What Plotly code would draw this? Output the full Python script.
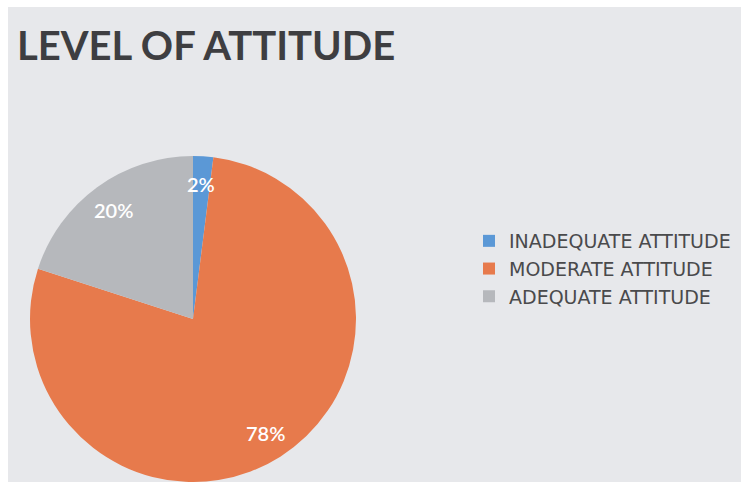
import math
import plotly.graph_objects as go

# Attitude levels and their shares (%)
levels = ["INADEQUATE ATTITUDE", "MODERATE ATTITUDE", "ADEQUATE ATTITUDE"]
shares = [2, 78, 20]
colors = ["#5b98d6", "#e77a4c", "#b6b8bc"]

W, H = 741, 482
# pie placement in pixels (pie sits on the bottom edge of the panel)
CX, CY = 193, 319
R = H - CY

fig = go.Figure()
fig.add_trace(go.Pie(
    labels=levels,
    values=shares,
    sort=False,
    direction="clockwise",
    rotation=0,
    textinfo="none",
    hoverinfo="label+percent",
    marker=dict(colors=colors, line=dict(width=0)),
    domain=dict(x=[(CX - R) / W, (CX + R) / W],
                y=[0, 2 * R / H]),
))

# percentage labels placed along each slice's mid-angle
total = sum(shares)
cum = 0
annotations = []
for v in shares:
    mid = (cum + v / 2) / total * 2 * math.pi
    cum += v
    rr = 0.83 * R
    px = CX + rr * math.sin(mid)
    py = (H - CY) + rr * math.cos(mid)
    annotations.append(dict(
        x=px / W, y=py / H, xref="paper", yref="paper",
        text=f"{round(v / total * 100)}%", showarrow=False,
        font=dict(family="Lato", size=20, color="#ffffff", weight=600),
        xanchor="center", yanchor="middle"))

annotations.append(dict(
    x=15 / W, y=(H - 45) / H, xref="paper", yref="paper",
    text="<b>LEVEL OF ATTITUDE</b>", showarrow=False,
    font=dict(family="Lato", size=40, color="#3e3e41"),
    xanchor="left", yanchor="middle"))

# slide-like background: white border with a soft gray panel
shapes = [dict(type="rect", xref="paper", yref="paper",
               x0=8 / W, x1=1, y0=0, y1=(H - 7) / H,
               fillcolor="#e6e8eb", line=dict(width=0), layer="below")]
steps = 12
for i in range(steps):
    shapes.append(dict(type="rect", xref="paper", yref="paper",
                       x0=(8 + (W - 8) * i / steps) / W, x1=1,
                       y0=0, y1=(H - 7) / H,
                       fillcolor="#ffffff", opacity=0.04,
                       line=dict(width=0), layer="below"))

fig.update_layout(
    width=W, height=H,
    margin=dict(l=0, r=0, t=0, b=0),
    paper_bgcolor="#ffffff",
    plot_bgcolor="rgba(0,0,0,0)",
    showlegend=True,
    legend=dict(
        x=469 / W, y=(H - 222) / H, xanchor="left", yanchor="top",
        font=dict(family="DejaVu Sans", size=19, color="#4a4a4c"),
        bgcolor="rgba(0,0,0,0)",
    ),
    annotations=annotations,
    shapes=shapes,
)

fig.write_html("out.html")
